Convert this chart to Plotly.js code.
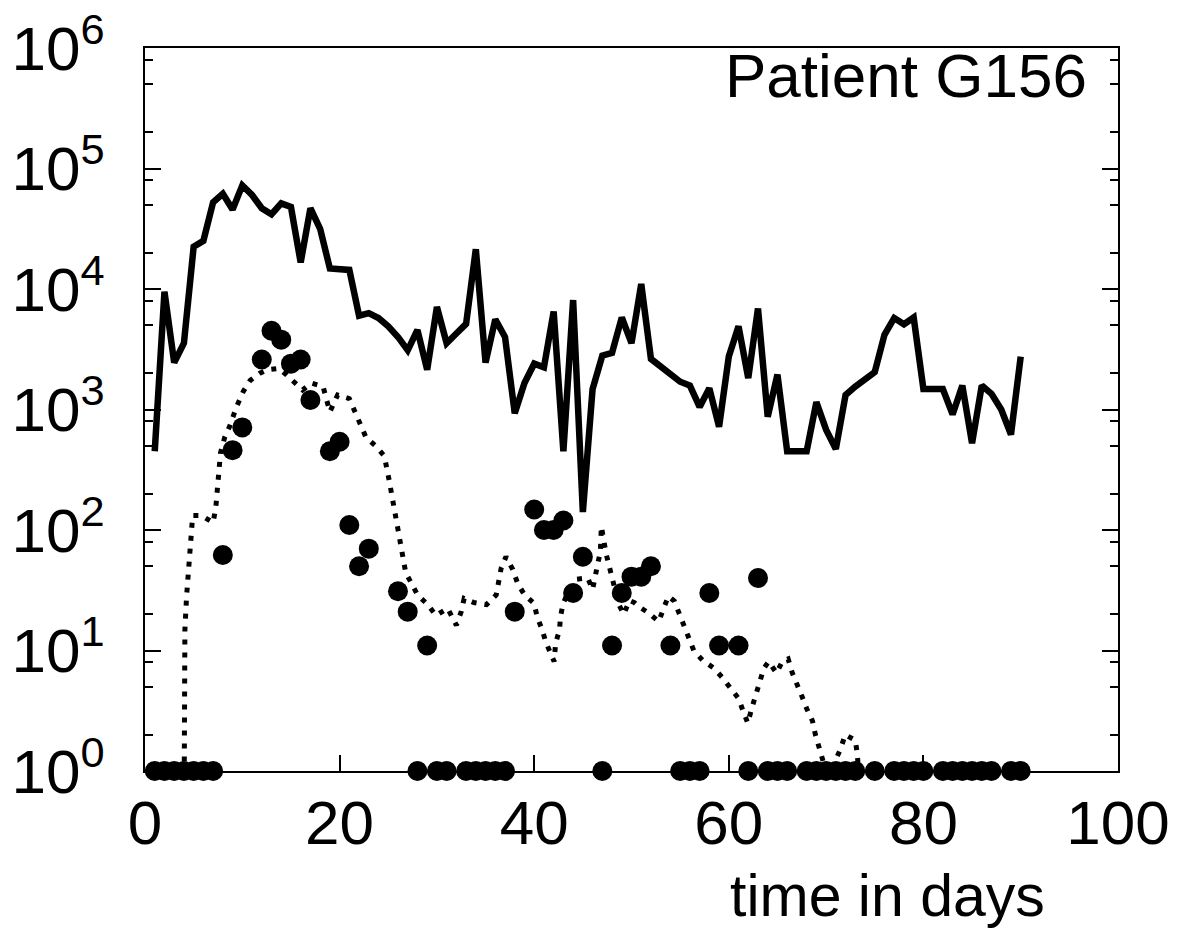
<!DOCTYPE html>
<html><head><meta charset="utf-8">
<script src="https://cdn.plot.ly/plotly-3.0.1.min.js"></script>
<style>body{margin:0;background:#fff}</style>
</head><body><div id="chart" style="width:1186px;height:939px"></div>
<script>
// Solid line: daily values, days 1..90
const lineDays = [
  1,2,3,4,5,6,7,8,9,10, 11,12,13,14,15,16,17,18,19,20,
  21,22,23,24,25,26,27,28,29,30, 31,32,33,34,35,36,37,38,39,40,
  41,42,43,44,45,46,47,48,49,50, 51,52,53,54,55,56,57,58,59,60,
  61,62,63,64,65,66,67,68,69,70, 71,72,73,74,75,76,77,78,79,80,
  81,82,83,84,85,86,87,88,89,90];
const lineValues = [
  450,9500,2450,3550,22400,25100,52500,61700,45700,72400,
  60300,46800,41700,51300,47900,16600,46800,31600,14800,14500,
  14400,6000,6300,5750,4900,4000,3100,4570,2140,7100,
  3550,4270,5130,21400,2450,5600,4000,930,1660,2400,
  2240,6500,450,8100,141,1480,2800,2950,5800,3550,
  11000,2630,2290,1950,1700,1580,1050,1500,720,2750,
  4900,1820,6900,870,1950,450,450,450,1150,680,
  470,1320,1550,1780,2040,4170,5750,5100,5800,1480,
  1480,1480,910,1580,525,1580,1350,1000,620,2750];

// Dotted curve
const modelDays = [
  3.98,4.03,4.1,4.27,4.55,4.72,4.9,5.8,7.0,7.28,
  7.5,7.76,8.2,8.7,9.4,10.1,10.8,11.8,12.6,13.7,
  14.5,15.6,16.2,17.1,18.3,19.0,19.8,21.0,21.7,22.7,
  23.8,24.6,25.1,25.5,26.0,26.5,26.8,27.4,28.0,29.06,
  29.9,31.1,32.0,32.5,32.8,33.8,35.1,36.1,36.6,37.1,
  37.8,38.3,39.0,40.0,40.3,40.8,41.2,42.05,42.2,42.6,
  42.7,42.97,43.6,44.3,45.5,46.0,46.3,46.5,46.8,46.9,
  47.4,47.7,48.0,48.7,49.2,49.8,50.3,50.8,51.8,52.8,
  53.3,53.8,54.4,54.9,55.4,55.9,56.4,57.3,58.5,59.3,
  60.2,61.0,61.5,61.95,62.4,62.8,63.2,63.6,64.1,64.9,
  65.5,66.1,66.5,67.0,67.5,68.0,68.6,68.9,69.2,69.7,
  70.4,70.9,71.45,71.97,73.0,73.2,73.7];
const modelValues = [
  0.1,7.8,14.8,28,52,100,132,132,115,155,
  257,437,590,724,1050,1410,1740,2000,2140,2190,
  1950,1580,1450,1660,1550,955,1320,1230,930,590,
  490,410,257,166,100,60,44,36,29,24,
  19.5,22.4,16.2,21,27,25,24,29,48,60,
  47,36,29,24.5,19,15,11.7,8.1,11.5,14.8,
  19,24.5,32,39,40,32,40,51,66,107,
  63,50,39,24,20,26,25,23,20.4,17.4,
  22.4,28.2,25.7,20.4,15.8,12.6,10,8.3,7.1,6.0,
  4.9,4.0,3.1,2.5,3.4,4.4,5.5,7.1,8.1,6.5,
  8.1,8.5,6.6,5.4,4.2,3.3,2.6,2.0,1.6,1.2,
  0.5,1.2,1.5,2.0,1.8,1.4,0.4];

// Filled circles
const dotDays = [
  1,2,3,4,5,6,7,8,9,10,
  12,13,14,15,16,17,
  19,20,21,22,23,
  26,27,28,29,30,31,
  33,34,35,36,37,38,
  40,41,42,43,44,45,
  47,48,49,50,51,52,
  54,55,56,57,58,59,
  61,62,63,64,65,66,
  68,69,70,71,72,73,
  75,
  77,78,79,80,
  82,83,84,85,86,87,
  89,90];
const dotValues = [
  1,1,1,1,1,1,1,62,460,710,
  2600,4500,3800,2400,2600,1200,
  450,540,110,50,70,
  31,21,1,11,1,1,
  1,1,1,1,1,21,
  148,100,100,120,30,60,
  1,11,30,41,41,50,
  11,1,1,1,30,11,
  11,1,40,1,1,1,
  1,1,1,1,1,1,
  1,
  1,1,1,1,
  1,1,1,1,1,1,
  1,1];

const xTickVals = [0,20,40,60,80,100];
const yTickVals = [1,10,100,1000,10000,100000,1000000];
const yTickText = ['10<sup>0</sup>','10<sup>1</sup>','10<sup>2</sup>','10<sup>3</sup>','10<sup>4</sup>','10<sup>5</sup>','10<sup>6</sup>'];
const yMinorVals = [2,5,8,20,50,80,200,500,800,2000,5000,8000,20000,50000,80000,200000,500000,800000];

const FONT = 'Liberation Sans, Arial, Helvetica, sans-serif';

const traces = [
  {x: lineDays, y: lineValues, type: 'scatter', mode: 'lines',
   line: {color: '#000', width: 6.5}, hoverinfo: 'skip'},
  {x: modelDays, y: modelValues, type: 'scatter', mode: 'lines',
   line: {color: '#000', width: 5, dash: '5px,8px'}, hoverinfo: 'skip'},
  {x: dotDays, y: dotValues, type: 'scatter', mode: 'markers', cliponaxis: false,
   marker: {color: '#000', size: 20, line: {width: 0}}, hoverinfo: 'skip'}
];

const layout = {
  width: 1186, height: 939,
  margin: {l: 145, r: 68, t: 48, b: 168},
  paper_bgcolor: '#fff', plot_bgcolor: '#fff',
  showlegend: false,
  font: {family: FONT, color: '#000', size: 62},
  xaxis: {
    range: [0, 100], tickmode: 'array', tickvals: xTickVals,
    ticks: 'inside', ticklen: 16, tickwidth: 2, tickcolor: '#000',
    showline: true, linewidth: 2, linecolor: '#000', mirror: true,
    showgrid: false, zeroline: false,
    tickfont: {family: FONT, size: 62, color: '#000'},
    ticklabelstandoff: -3
  },
  yaxis: {
    type: 'log', range: [0, 6], tickmode: 'array', tickvals: yTickVals, ticktext: yTickText,
    ticks: 'inside', ticklen: 16, tickwidth: 2, tickcolor: '#000',
    showline: true, linewidth: 2, linecolor: '#000', mirror: 'ticks',
    showgrid: false, zeroline: false,
    minor: {tickmode: 'array', tickvals: yMinorVals, ticks: 'inside', ticklen: 8, tickwidth: 2, tickcolor: '#000', showgrid: false},
    tickfont: {family: FONT, size: 62, color: '#000'},
    ticklabelstandoff: 26
  },
  annotations: [
    {text: 'Patient G156', xref: 'paper', yref: 'paper', x: 0.97, y: 0.962,
     xanchor: 'right', yanchor: 'middle', showarrow: false,
     font: {family: FONT, size: 62, color: '#000'}},
    {text: 'time in days', xref: 'paper', yref: 'paper', x: 0.927, y: -0.173,
     xanchor: 'right', yanchor: 'middle', showarrow: false,
     font: {family: FONT, size: 59, color: '#000'}}
  ]
};

Plotly.newPlot('chart', traces, layout, {staticPlot: true, displayModeBar: false});
</script>
</body></html>
